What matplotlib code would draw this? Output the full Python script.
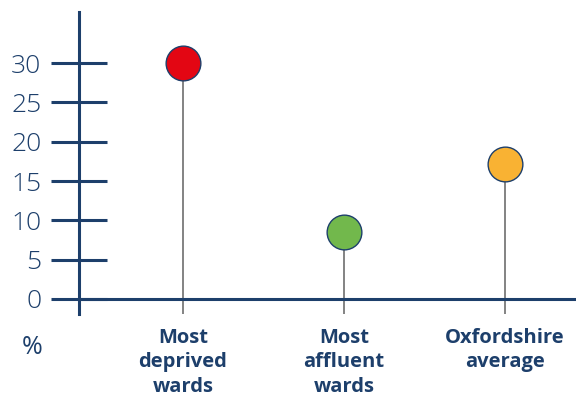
import matplotlib.pyplot as plt

categories = ["Most\ndeprived\nwards", "Most\naffluent\nwards", "Oxfordshire\naverage"]
values = [30, 8.5, 17.2]
colors = ["#e30613", "#72b84c", "#f9b233"]
yticks = [0, 5, 10, 15, 20, 25, 30]

navy = "#1d3f6b"
plt.rcParams['font.family'] = ['Open Sans', 'DejaVu Sans']

fig = plt.figure(figsize=(5.76, 3.96), dpi=100)
ax = fig.add_axes([79 / 576, 1 - 314 / 396, 497 / 576, 302 / 396])

ymin, ymax = -1.91, 36.5
ax.set_ylim(ymin, ymax)
ax.set_xlim(-0.646, 2.44)

xs = list(range(len(values)))
for x, v, c in zip(xs, values, colors):
    ax.plot([x, x], [ymin, v], color="#7a7a7a", lw=1.3, zorder=1)
    ax.plot(x, v, 'o', ms=25, mfc=c, mec=navy, mew=1.0, zorder=3)

ax.axhline(0, color=navy, lw=2.2, zorder=2)

for s in ['top', 'right', 'bottom']:
    ax.spines[s].set_visible(False)
ax.spines['left'].set_color(navy)
ax.spines['left'].set_linewidth(2.2)

ax.set_yticks(yticks)
ax.set_yticklabels([str(t) for t in yticks], fontsize=19, color=navy, fontweight='light')
ax.tick_params(axis='y', direction='inout', length=40, width=2.2, color=navy, pad=7)

ax.set_xticks(xs)
ax.set_xticklabels(categories, fontsize=14.5, fontweight='bold', color=navy, linespacing=1.3)
ax.tick_params(axis='x', length=0, pad=10)

fig.text(32 / 576, 1 - 348 / 396, "%", fontsize=18, color=navy, ha='center', va='center')

fig.savefig("out.png", dpi=100)
